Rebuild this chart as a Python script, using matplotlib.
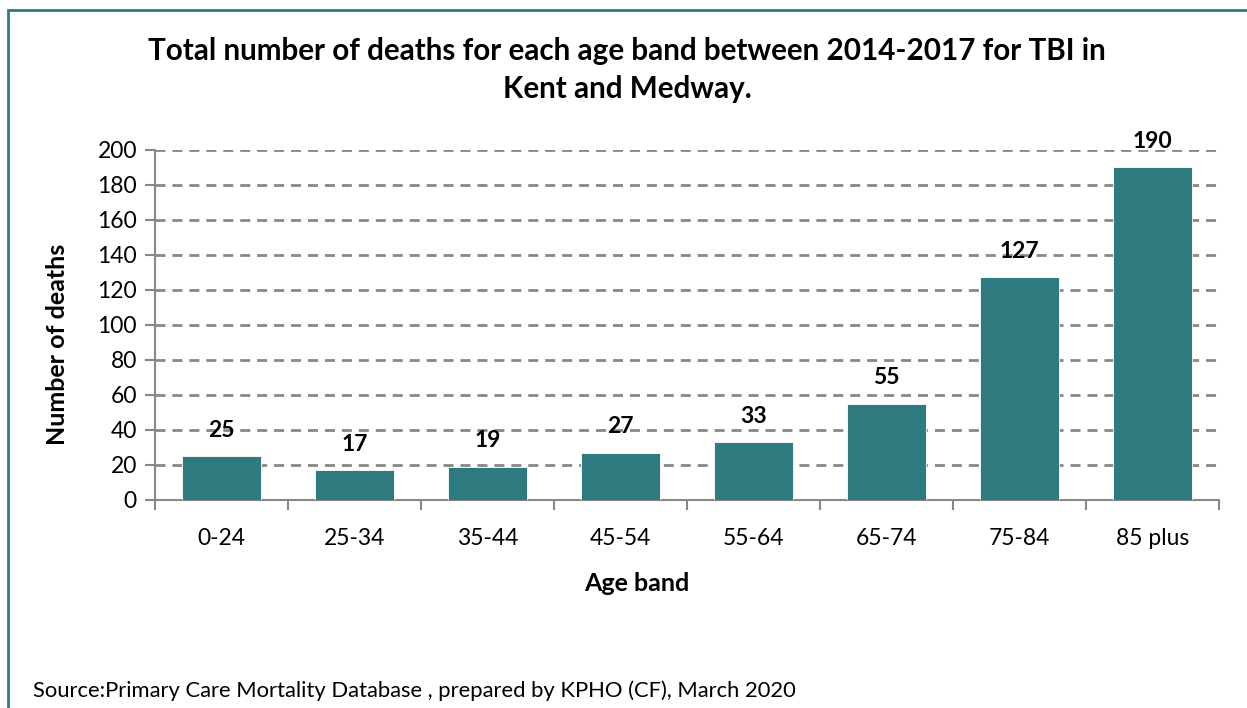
import matplotlib.pyplot as plt
from matplotlib.patches import Rectangle

# Data
age_bands = ["0-24", "25-34", "35-44", "45-54", "55-64", "65-74", "75-84", "85 plus"]
deaths = [25, 17, 19, 27, 33, 55, 127, 190]
y_ticks = [0, 20, 40, 60, 80, 100, 120, 140, 160, 180, 200]

bar_color = "#2E7B7F"
grid_color = "#888888"

plt.rcParams['font.family'] = ['Lato', 'DejaVu Sans']

fig = plt.figure(figsize=(12.47, 7.08), dpi=100)
W, H = 1247, 708

# outer frame (left and top edges visible)
fig.patches.append(Rectangle((8 / W, -0.1), 1.2, (H - 10) / H + 0.1, transform=fig.transFigure,
                             fill=False, edgecolor="#2E7B7F", linewidth=2))

ax = fig.add_axes([155 / W, 1 - 500 / H, (1219 - 155) / W, (500 - 149.5) / H])

x = range(len(age_bands))
bars = ax.bar(x, deaths, width=0.6, color=bar_color, edgecolor="white", linewidth=0.6, zorder=3)

ax.set_xlim(-0.5, len(age_bands) - 0.5)
ax.set_ylim(0, 200)
ax.set_yticks(y_ticks)
ax.set_yticklabels([str(v) for v in y_ticks], fontsize=16.5)
ax.set_xticks(x)
ax.set_xticklabels(age_bands, fontsize=16.5)
ax.tick_params(axis='x', length=0, pad=20)
ax.tick_params(axis='y', length=7, width=1.5, color=grid_color, pad=6)

# category separator ticks on x axis
ax.set_xticks([i - 0.5 for i in range(len(age_bands) + 1)], minor=True)
ax.tick_params(axis='x', which='minor', length=7, width=1.5, color=grid_color)

ax.grid(axis='y', linestyle=(0, (3.6, 2.5)), color=grid_color, linewidth=2, zorder=0)

for side in ['top', 'right']:
    ax.spines[side].set_visible(False)
ax.spines['left'].set_color(grid_color)
ax.spines['bottom'].set_color(grid_color)
ax.spines['left'].set_linewidth(1.5)
ax.spines['bottom'].set_linewidth(1.5)

for bar in bars:
    h = bar.get_height()
    ax.annotate(f'{int(h)}', xy=(bar.get_x() + bar.get_width() / 2, h),
                xytext=(0, 11), textcoords="offset points",
                ha='center', va='bottom', fontsize=16.5, fontweight='bold', zorder=4)

ax.set_ylabel("Number of deaths", fontsize=18, fontweight='bold', va='center', ha='center')
ax.set_xlabel("Age band", fontsize=18, fontweight='bold', va='center', ha='center')
ax.yaxis.set_label_coords(-0.0912, 0.445)
ax.xaxis.set_label_coords(0.453, -0.237)

fig.text(627 / W, 1 - 70 / H,
         "Total number of deaths for each age band between 2014-2017 for TBI in\nKent and Medway.",
         ha='center', va='center', fontsize=21.3, fontweight='bold', linespacing=1.4)

fig.text(33 / W, 1 - 691 / H,
         "Source:Primary Care Mortality Database , prepared by KPHO (CF), March 2020",
         ha='left', va='center', fontsize=15.8)

fig.savefig("out.png", dpi=100)
